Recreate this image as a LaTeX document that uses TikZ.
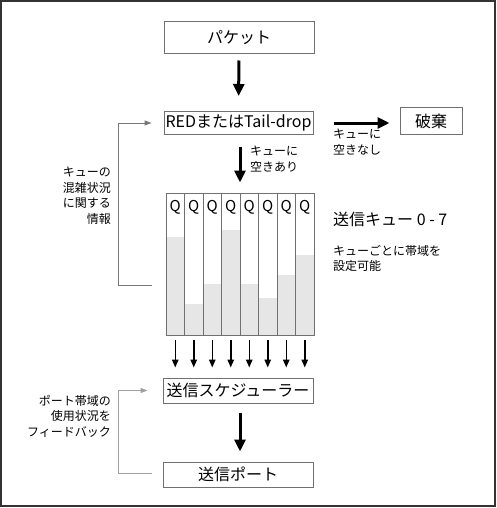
\documentclass[tikz,border=0pt]{standalone}
\usepackage{fontspec}
\setmainfont{Noto Sans CJK JP}
\usetikzlibrary{arrows.meta,calc}
\definecolor{boxgray}{HTML}{707070}
\definecolor{fillgray}{HTML}{E6E6E6}
\definecolor{fbdark}{HTML}{787878}
\definecolor{fblight}{HTML}{A0A0A0}
\definecolor{framecol}{HTML}{333333}
\begin{document}
\begin{tikzpicture}[x=1pt,y=-1pt,
  box/.style={draw=boxgray, line width=1pt, inner sep=0pt, minimum width=150pt, font=\fontsize{16}{18}\selectfont},
  bigarrow/.style={line width=3pt, -{Triangle[length=12pt,width=11pt]}},
  smallarrow/.style={line width=1.5pt, -{Triangle[length=8pt,width=6.5pt]}},
  fbd/.style={draw=fbdark, line width=1pt, -{Triangle[length=7pt,width=5pt]}},
  fbl/.style={draw=fblight, line width=1pt, -{Triangle[length=7pt,width=5pt]}},
  lbl/.style={inner sep=0pt, font=\fontsize{12}{15.5}\selectfont}
]
\useasboundingbox (0,0) rectangle (497,508);
\draw[line width=2pt, draw=framecol] (1,1) rectangle (495,506);

% boxes
\node[box, minimum height=32pt] (pk) at (239,38) {パケット};
\node[box, minimum width=149pt, minimum height=23pt] (red) at (238.5,123) {REDまたはTail-drop};
\node[box, minimum width=62pt, minimum height=27pt] (dis) at (431,121) {破棄};
\node[box, minimum height=25pt] (sch) at (238,390.5) {送信スケジューラー};
\node[box, minimum height=25pt] (port) at (238,474.5) {送信ポート};

% queues
\foreach \lv [count=\i from 0] in {237,304,284,230,284,298,275,255} {
  \fill[fillgray] ({166+18.5*\i},\lv) rectangle ({166+18.5*(\i+1)},335);
  \node[font=\fontsize{15}{15}\selectfont, anchor=base, inner sep=0pt] (q\i) at ({166+18.5*(\i+0.5)},211) {Q};
  \coordinate (qs\i) at ({166+18.5*(\i+0.5)},335);
}
\foreach \i in {1,...,7} {
  \draw[boxgray, line width=1pt] ({166+18.5*\i},193) -- ({166+18.5*\i},335);
}
\node[draw=boxgray, line width=1pt, minimum width=148pt, minimum height=142pt, inner sep=0pt] (qb) at (240,264) {};

% main arrows
\draw[bigarrow, shorten <=6pt, shorten >=15pt] (pk) -- (red);
\draw[bigarrow, shorten <=12pt, shorten >=10pt] (qb.north |- red.south) -- (qb.north);
\draw[bigarrow, shorten <=20pt, shorten >=10pt] (red.east) -- (red.east -| dis.west);
\draw[bigarrow, shorten <=9pt, shorten >=10pt] (qb.south |- sch.south) -- (qb.south |- port.north);
\foreach \i in {0,...,7} {
  \draw[smallarrow, shorten <=5pt, shorten >=10pt] (qs\i) -- (qs\i |- sch.north);
}

% feedback lines
\coordinate (f1) at ($(qb.west)+(-14,21)$);
\draw[fbd] (f1) -- ++(-33,0) |- ([xshift=-12pt]red.west);
\coordinate (f2) at ($(port.west)+(-11,-1.5)$);
\draw[fbl] (f2) -- ++(-33,0) |- ([xshift=-15pt]sch.west);

% labels
\node[lbl, anchor=north west, align=left] (l1) at (250,146) {キューに\\空きあり};
\node[lbl, anchor=north west, align=left] (l2) at (333,129) {キューに\\空きなし};
\node[lbl, anchor=north east, align=right] (l3) at (111,167) {キューの\\混雑状況\\に関する\\情報};
\node[anchor=north west, inner sep=0pt, font=\fontsize{16}{18}\selectfont] (l4) at (333,211.5) {送信キュー 0 - 7};
\node[lbl, anchor=north west, align=left] (l5) at (333,245) {キューごとに帯域を\\設定可能};
\node[lbl, anchor=north east, align=right] (l6) at (111,395) {ポート帯域の\\使用状況を\\フィードバック};
\end{tikzpicture}
\end{document}
